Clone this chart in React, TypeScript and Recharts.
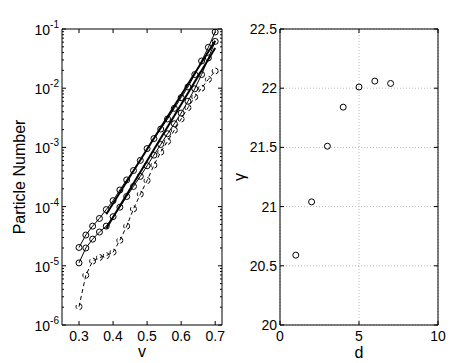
import { LineChart, Line, XAxis, YAxis, ReferenceArea, ScatterChart, Scatter, CartesianGrid } from "recharts";

// left panel: particle number vs v (log scale)
const V = [0.3, 0.32, 0.34, 0.36, 0.38, 0.4, 0.42, 0.44, 0.46, 0.48, 0.5, 0.52, 0.54, 0.56, 0.58, 0.6, 0.62, 0.64, 0.66, 0.68, 0.7];
const SERIES_A = [2.04e-5, 3.31e-5, 4.68e-5, 6.31e-5, 8.91e-5, 1.26e-4, 1.91e-4, 2.82e-4, 4.07e-4, 6.03e-4, 9.55e-4, 1.41e-3, 2.04e-3, 3.02e-3, 4.57e-3, 6.92e-3, 1.05e-2, 1.7e-2, 2.88e-2, 4.9e-2, 8.91e-2];
const SERIES_B = [1.12e-5, 2.0e-5, 2.82e-5, 3.72e-5, 4.68e-5, 6.76e-5, 9.77e-5, 1.48e-4, 2.19e-4, 3.24e-4, 4.9e-4, 7.41e-4, 1.12e-3, 1.7e-3, 2.51e-3, 3.8e-3, 6.03e-3, 9.77e-3, 1.7e-2, 3.24e-2, 6.17e-2];
const SERIES_C = [2.04e-6, 6.92e-6, 1.2e-5, 1.38e-5, 1.48e-5, 1.7e-5, 2.69e-5, 4.68e-5, 9.12e-5, 1.62e-4, 2.75e-4, 5.01e-4, 8.32e-4, 1.26e-3, 1.95e-3, 3.02e-3, 4.68e-3, 7.08e-3, 1.0e-2, 1.41e-2, 1.95e-2];
const FIT_V = [0.38, 0.7];
const FIT_A = [7.41e-5, 6.31e-2];
const FIT_B = [4.27e-5, 4.79e-2];
const V_TICKS = [0.3, 0.4, 0.5, 0.6, 0.7];
const DECADES = [1e-6, 1e-5, 1e-4, 1e-3, 1e-2, 1e-1];

// right panel: gamma vs d
const D = [1, 2, 3, 4, 5, 6, 7];
const GAMMA = [20.59, 21.04, 21.51, 21.84, 22.01, 22.06, 22.04];
const D_TICKS = [0, 5, 10];
const GAMMA_TICKS = [20, 20.5, 21, 21.5, 22, 22.5];

const FONT = "'Liberation Sans', Arial, Helvetica, sans-serif";
const PH = 296;
const LEFT_PW = 160;
const RIGHT_PW = 158;

const minorTicks: number[] = [];
DECADES.slice(0, -1).forEach((d) => {
  for (let k = 1; k <= 9; k++) minorTicks.push(d * k);
});
const LOG_TICKS = [...minorTicks, DECADES[DECADES.length - 1]];

const toRows = (ys: number[]) => V.map((v, i) => ({ v, p: ys[i] }));
const fitRows = (ys: number[]) => FIT_V.map((v, i) => ({ v, p: ys[i] }));
const gammaRows = D.map((d, i) => ({ d, g: GAMMA[i] }));

const dot = { r: 3, fill: "none", stroke: "#000", strokeWidth: 1 };

function LogTick({ x, y, payload }: any) {
  const l = Math.log10(payload.value);
  const major = Math.abs(l - Math.round(l)) < 1e-6;
  const len = major ? 4 : 2;
  return (
    <g>
      <line x1={x} x2={x + len} y1={y} y2={y} stroke="#000" />
      <line x1={x + LEFT_PW} x2={x + LEFT_PW - len} y1={y} y2={y} stroke="#000" />
      {major && (
        <text x={x - 3} y={y + 6} textAnchor="end" fontSize={14} fill="#000" fontFamily={FONT}>
          10
          <tspan fontSize={10} dy={-7}>
            {Math.round(l)}
          </tspan>
        </text>
      )}
    </g>
  );
}

function BottomTick({ x, y, payload }: any) {
  return (
    <g>
      <line x1={x} x2={x} y1={y} y2={y - 4} stroke="#000" />
      <line x1={x} x2={x} y1={y - PH} y2={y - PH + 4} stroke="#000" />
      <text x={x} y={y + 16} textAnchor="middle" fontSize={14} fill="#000" fontFamily={FONT}>
        {payload.value}
      </text>
    </g>
  );
}

function GammaTick({ x, y, payload }: any) {
  return (
    <g>
      <line x1={x} x2={x + 4} y1={y} y2={y} stroke="#000" />
      <line x1={x + RIGHT_PW} x2={x + RIGHT_PW - 4} y1={y} y2={y} stroke="#000" />
      <text x={x - 3} y={y + 5} textAnchor="end" fontSize={14} fill="#000" fontFamily={FONT}>
        {payload.value}
      </text>
    </g>
  );
}

export default function App() {
  return (
    <div style={{ position: "absolute", left: 0, top: 0, width: 450, height: 363, background: "#fff", fontFamily: FONT }}>
      <div style={{ position: "absolute", left: 0, top: 0 }}>
        <LineChart width={230} height={363} margin={{ top: 29, right: 8, bottom: 0, left: 0 }}>
          <XAxis
            type="number"
            dataKey="v"
            domain={[0.25, 0.72]}
            ticks={V_TICKS}
            interval={0}
            height={38}
            tickLine={false}
            axisLine={false}
            tickSize={0}
            tickMargin={0}
            tick={(p: any) => <BottomTick {...p} />}
            label={{ value: "v", position: "insideBottom", offset: 6, fontSize: 16, fill: "#000" }}
            allowDataOverflow
          />
          <YAxis
            type="number"
            dataKey="p"
            scale="log"
            domain={[1e-6, 1e-1]}
            ticks={LOG_TICKS}
            interval={0}
            width={62}
            tickLine={false}
            axisLine={false}
            tickSize={0}
            tickMargin={0}
            tick={(p: any) => <LogTick {...p} />}
            label={{ value: "Particle Number", angle: -90, position: "insideLeft", offset: 19, fontSize: 16, fill: "#000", style: { textAnchor: "middle" } }}
            allowDataOverflow
          />
          <ReferenceArea x1={0.25} x2={0.72} y1={1e-6} y2={1e-1} fill="none" stroke="#000" strokeWidth={1} />
          <Line data={toRows(SERIES_A)} dataKey="p" stroke="#000" strokeWidth={1} dot={dot} isAnimationActive={false} />
          <Line data={toRows(SERIES_B)} dataKey="p" stroke="#000" strokeWidth={1} dot={dot} isAnimationActive={false} />
          <Line data={toRows(SERIES_C)} dataKey="p" stroke="#000" strokeWidth={1} strokeDasharray="4 3" dot={dot} isAnimationActive={false} />
          <Line data={fitRows(FIT_A)} dataKey="p" stroke="#000" strokeWidth={2} dot={false} isAnimationActive={false} />
          <Line data={fitRows(FIT_B)} dataKey="p" stroke="#000" strokeWidth={2} dot={false} isAnimationActive={false} />
        </LineChart>
      </div>
      <div style={{ position: "absolute", left: 230, top: 0 }}>
        <ScatterChart width={220} height={363} margin={{ top: 29, right: 12, bottom: 0, left: 0 }}>
          <CartesianGrid stroke="#b8b8b8" strokeDasharray="1 2" />
          <XAxis
            type="number"
            dataKey="d"
            domain={[0, 10]}
            ticks={D_TICKS}
            interval={0}
            height={38}
            tickLine={false}
            axisLine={false}
            tickSize={0}
            tickMargin={0}
            tick={(p: any) => <BottomTick {...p} />}
            label={{ value: "d", position: "insideBottom", offset: 5, fontSize: 16, fill: "#000" }}
          />
          <YAxis
            type="number"
            dataKey="g"
            domain={[20, 22.5]}
            ticks={GAMMA_TICKS}
            interval={0}
            width={50}
            tickLine={false}
            axisLine={false}
            tickSize={0}
            tickMargin={0}
            tick={(p: any) => <GammaTick {...p} />}
            label={{ value: "γ", angle: -90, position: "insideLeft", offset: 9, fontSize: 16, fill: "#000", style: { textAnchor: "middle" } }}
          />
          <ReferenceArea x1={0} x2={10} y1={20} y2={22.5} fill="none" stroke="#000" strokeWidth={1} />
          <Scatter
            data={gammaRows}
            isAnimationActive={false}
            shape={(p: any) => <circle cx={p.cx} cy={p.cy} r={3} fill="none" stroke="#000" strokeWidth={1} />}
          />
        </ScatterChart>
      </div>
    </div>
  );
}
